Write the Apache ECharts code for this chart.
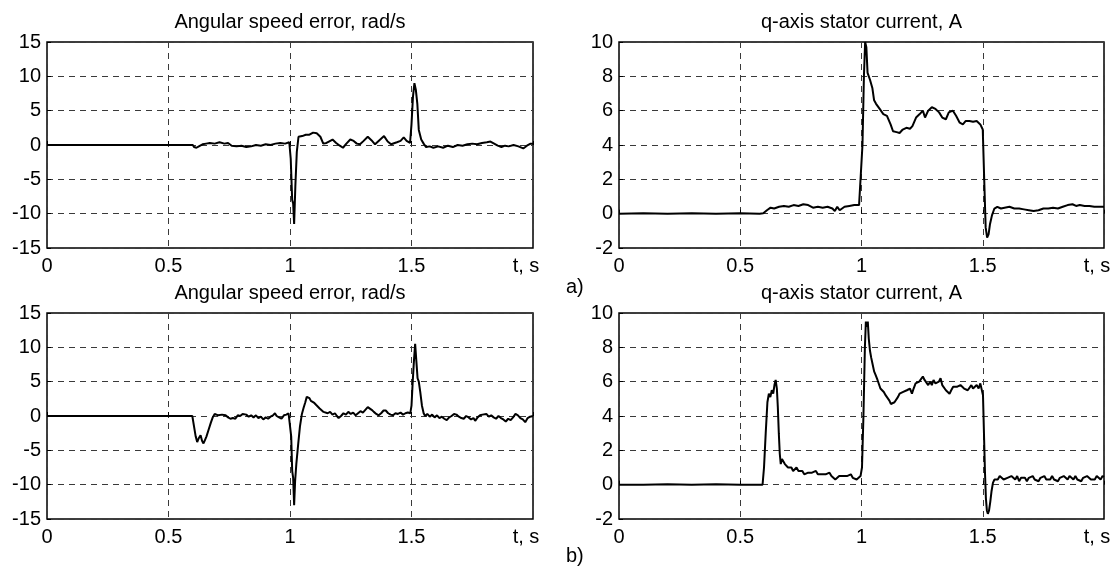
<!DOCTYPE html>
<html>
<head>
<meta charset="utf-8">
<script src="https://cdn.jsdelivr.net/npm/echarts@6/dist/echarts.min.js"></script>
<style>
  html, body { margin: 0; padding: 0; background: #fff; }
  #chart { width: 1118px; height: 570px; }
</style>
</head>
<body>
<div id="chart"></div>
<script>
// titles of the four panels
const speedTitle = 'Angular speed error, rad/s';
const currentTitle = 'q-axis stator current, A';
const panelLabels = ['a)', 'b)'];

// axis ticks
const tTicks = [0, 0.5, 1, 1.5, 2];
const speedTicks = [-15, -10, -5, 0, 5, 10, 15];
const currentTicks = [-2, 0, 2, 4, 6, 8, 10];

// a) angular speed error [t, rad/s]
const speedA = [[0,0],[0.6,0],[0.605,-0.3],[0.615,-0.4],[0.625,-0.2],[0.632,-0.4],[0.64,0.1],[0.655,0.2],[0.67,0.3],[0.69,0.2],[0.71,0.4],[0.73,0.2],[0.745,0.3],[0.76,-0.1],[0.78,-0.2],[0.8,-0.1],[0.82,-0.3],[0.84,-0.2],[0.86,0],[0.88,-0.1],[0.9,0.1],[0.92,0],[0.94,0.2],[0.96,0.3],[0.98,0.2],[0.997,0.4],[1.003,-2],[1.009,-8],[1.013,-8.5],[1.017,-11.5],[1.022,-6],[1.028,-1],[1.035,1.2],[1.05,1.3],[1.065,1.5],[1.08,1.5],[1.095,1.8],[1.11,1.7],[1.125,1.2],[1.137,0.2],[1.15,0.3],[1.16,0.5],[1.175,0.8],[1.19,0.3],[1.205,-0.1],[1.218,-0.4],[1.232,0.2],[1.248,0.8],[1.262,0.6],[1.275,0.2],[1.288,0.1],[1.303,0.6],[1.32,1.2],[1.335,0.7],[1.35,0.1],[1.368,0.7],[1.387,1.3],[1.402,0.5],[1.416,0.1],[1.44,0.4],[1.455,0.6],[1.468,1.1],[1.48,0.6],[1.494,0.3],[1.5,3],[1.506,7],[1.512,9],[1.518,8],[1.524,6],[1.53,2.2],[1.54,0.8],[1.55,0.2],[1.56,-0.3],[1.575,-0.2],[1.59,-0.4],[1.61,-0.2],[1.63,-0.4],[1.65,-0.1],[1.67,-0.3],[1.69,0],[1.71,-0.1],[1.73,0.1],[1.75,0.2],[1.77,0.1],[1.79,0.3],[1.81,0.4],[1.825,0.5],[1.84,0.2],[1.855,-0.1],[1.87,-0.3],[1.885,-0.1],[1.9,-0.2],[1.92,0],[1.94,-0.2],[1.96,-0.5],[1.975,-0.1],[1.99,0.2],[2.0,0.2]];

// a) q-axis stator current [t, A]
const currentA = [[0,0],[0.1,0.02],[0.2,0],[0.3,0.03],[0.4,0],[0.5,0.02],[0.58,0],[0.595,0.02],[0.61,0.2],[0.625,0.35],[0.64,0.3],[0.66,0.4],[0.68,0.45],[0.7,0.4],[0.72,0.5],[0.74,0.45],[0.76,0.55],[0.78,0.5],[0.8,0.35],[0.82,0.4],[0.84,0.35],[0.86,0.4],[0.88,0.3],[0.89,0.15],[0.9,0.4],[0.91,0.2],[0.93,0.4],[0.95,0.45],[0.97,0.5],[0.99,0.5],[0.998,0.6],[1.004,4],[1.01,8],[1.015,10],[1.02,9.7],[1.025,8.2],[1.035,7.8],[1.045,7.3],[1.052,6.6],[1.06,6.4],[1.075,6.1],[1.09,5.8],[1.105,5.7],[1.12,5.2],[1.13,4.8],[1.145,4.75],[1.157,4.7],[1.17,4.9],[1.185,5.0],[1.2,4.95],[1.21,5.1],[1.225,5.6],[1.24,5.8],[1.253,6.0],[1.262,5.6],[1.275,6.0],[1.29,6.2],[1.305,6.1],[1.32,5.9],[1.333,5.6],[1.348,5.5],[1.36,5.9],[1.377,6.0],[1.39,5.7],[1.405,5.3],[1.418,5.2],[1.43,5.4],[1.445,5.4],[1.46,5.35],[1.475,5.4],[1.49,5.2],[1.5,4.9],[1.506,2],[1.512,-0.8],[1.518,-1.4],[1.524,-1.2],[1.53,-0.6],[1.538,-0.1],[1.548,0.3],[1.56,0.4],[1.575,0.3],[1.59,0.35],[1.61,0.4],[1.63,0.3],[1.65,0.3],[1.67,0.25],[1.69,0.2],[1.71,0.15],[1.73,0.2],[1.75,0.3],[1.77,0.3],[1.79,0.35],[1.81,0.3],[1.83,0.4],[1.85,0.5],[1.87,0.55],[1.885,0.45],[1.9,0.5],[1.92,0.45],[1.94,0.45],[1.96,0.4],[1.98,0.4],[2.0,0.4]];

// b) angular speed error [t, rad/s]
const speedB = [[0,0],[0.598,0],[0.605,-1.5],[0.612,-3],[0.618,-3.8],[0.625,-3.2],[0.632,-2.8],[0.638,-3.6],[0.644,-4],[0.65,-3.5],[0.656,-3],[0.665,-2],[0.674,-1],[0.682,-0.2],[0.69,0.3],[0.698,0.4],[0.705,0.1],[0.712,0.3],[0.72,0.2],[0.728,0.4],[0.735,0.1],[0.745,-0.2],[0.755,-0.4],[0.765,-0.3],[0.775,-0.4],[0.785,0.1],[0.795,0],[0.805,0.3],[0.813,0.5],[0.82,0.2],[0.83,-0.1],[0.84,0.1],[0.85,-0.2],[0.86,0.1],[0.87,-0.3],[0.88,-0.1],[0.89,-0.5],[0.9,-0.2],[0.91,-0.4],[0.92,-0.1],[0.93,0.1],[0.938,0.4],[0.945,0],[0.955,-0.2],[0.965,-0.4],[0.975,0.1],[0.985,0.2],[0.994,0.4],[1.0,0.3],[1.005,-3],[1.009,-8],[1.013,-9],[1.017,-13],[1.021,-9.5],[1.026,-7],[1.034,-4],[1.041,-1.5],[1.049,0.3],[1.056,1.2],[1.063,2],[1.069,2.8],[1.074,3],[1.08,2.6],[1.086,2.2],[1.093,2.4],[1.1,1.9],[1.108,1.6],[1.116,1.4],[1.122,1.1],[1.13,0.9],[1.138,0.6],[1.146,0.7],[1.155,0.4],[1.165,0.6],[1.175,0.2],[1.185,0.4],[1.193,0],[1.2,-0.3],[1.21,0],[1.22,0.4],[1.23,0.2],[1.24,0.6],[1.25,0.3],[1.26,0.5],[1.27,0.1],[1.28,0.4],[1.29,0.7],[1.3,0.5],[1.31,0.9],[1.32,1.3],[1.328,1.2],[1.336,0.9],[1.345,0.6],[1.355,0.3],[1.365,0.1],[1.375,0.4],[1.385,0.8],[1.394,0.8],[1.404,0.4],[1.414,0.2],[1.424,0.1],[1.434,0.4],[1.444,0.3],[1.455,0.5],[1.465,0.2],[1.475,0.4],[1.485,0.5],[1.495,0.4],[1.5,1.5],[1.505,5],[1.51,8],[1.515,10.5],[1.52,8],[1.525,5.5],[1.53,5],[1.536,3.5],[1.543,1.5],[1.55,0.4],[1.556,0],[1.565,0.3],[1.575,-0.1],[1.585,0.2],[1.595,-0.2],[1.605,0.1],[1.615,-0.3],[1.625,-0.1],[1.635,-0.4],[1.645,-0.6],[1.655,-0.2],[1.665,0],[1.675,0.3],[1.685,0.2],[1.695,-0.1],[1.705,-0.3],[1.715,-0.4],[1.725,0],[1.735,-0.2],[1.745,-0.5],[1.755,-0.3],[1.762,-0.7],[1.772,-0.2],[1.782,0.1],[1.792,0.2],[1.8,0.4],[1.808,0.3],[1.818,-0.1],[1.828,0.1],[1.838,-0.2],[1.848,-0.4],[1.858,0],[1.868,-0.3],[1.878,-0.5],[1.888,-0.8],[1.898,-0.4],[1.908,-0.6],[1.918,-0.2],[1.928,0.3],[1.938,0.1],[1.948,-0.3],[1.958,-0.5],[1.968,-0.9],[1.978,-0.3],[1.988,-0.1],[2.0,0]];

// b) q-axis stator current [t, A]
const currentB = [[0,0],[0.1,0],[0.2,0.02],[0.3,0],[0.4,0.02],[0.5,0],[0.592,0],[0.598,1],[0.605,3],[0.612,4.8],[0.618,5.3],[0.624,5.1],[0.63,5.5],[0.636,5.3],[0.641,5.8],[0.646,6.1],[0.651,5.6],[0.655,4.5],[0.659,3],[0.663,1.8],[0.667,1.2],[0.672,1.5],[0.678,1.4],[0.684,1.2],[0.69,1.3],[0.697,1.0],[0.704,0.9],[0.711,1.0],[0.718,0.8],[0.725,0.9],[0.732,1.0],[0.74,0.8],[0.748,0.7],[0.756,0.8],[0.764,0.6],[0.772,0.5],[0.78,0.7],[0.788,0.6],[0.796,0.7],[0.804,0.6],[0.812,0.8],[0.82,0.6],[0.828,0.5],[0.836,0.6],[0.844,0.5],[0.852,0.6],[0.86,0.5],[0.868,0.7],[0.876,0.5],[0.884,0.4],[0.892,0.3],[0.9,0.4],[0.908,0.5],[0.916,0.4],[0.924,0.5],[0.932,0.4],[0.94,0.5],[0.948,0.4],[0.956,0.6],[0.964,0.4],[0.972,0.5],[0.98,0.3],[0.988,0.4],[0.996,0.5],[1.002,1],[1.008,4],[1.014,8],[1.018,9.5],[1.022,9.2],[1.026,9.5],[1.03,8.5],[1.035,7.8],[1.04,7.4],[1.046,7.0],[1.052,6.6],[1.058,6.4],[1.066,6.1],[1.072,6.0],[1.078,5.6],[1.085,5.5],[1.092,5.4],[1.1,5.2],[1.108,5.1],[1.115,4.9],[1.121,4.7],[1.128,4.6],[1.136,4.8],[1.143,4.9],[1.15,5.1],[1.157,5.3],[1.165,5.2],[1.172,5.4],[1.18,5.3],[1.187,5.5],[1.194,5.4],[1.2,5.6],[1.208,5.3],[1.215,5.6],[1.223,5.9],[1.23,5.8],[1.238,6.0],[1.246,5.9],[1.253,6.3],[1.26,6.1],[1.268,6.0],[1.275,5.8],[1.283,6.0],[1.29,5.8],[1.297,6.1],[1.305,5.9],[1.312,5.8],[1.319,6.0],[1.326,6.2],[1.333,5.8],[1.34,5.7],[1.348,5.5],[1.355,5.4],[1.363,5.3],[1.37,5.5],[1.378,5.7],[1.385,5.6],[1.393,5.7],[1.4,5.6],[1.408,5.8],[1.415,5.7],[1.423,5.6],[1.43,5.7],[1.438,5.5],[1.445,5.6],[1.453,5.8],[1.46,5.6],[1.468,5.7],[1.475,5.8],[1.483,5.6],[1.49,5.9],[1.496,6.0],[1.501,5.2],[1.505,3],[1.509,0.8],[1.513,-0.8],[1.517,-1.5],[1.521,-1.7],[1.526,-1.5],[1.531,-1.0],[1.536,-0.4],[1.542,0.1],[1.548,0.3],[1.555,0.4],[1.562,0.3],[1.57,0.5],[1.578,0.4],[1.586,0.3],[1.594,0.2],[1.602,0.4],[1.61,0.3],[1.618,0.5],[1.626,0.4],[1.634,0.3],[1.642,0.5],[1.65,0.2],[1.658,0.4],[1.666,0.3],[1.674,0.4],[1.682,0.2],[1.69,0.4],[1.698,0.3],[1.706,0.5],[1.714,0.3],[1.722,0.4],[1.73,0.2],[1.738,0.4],[1.746,0.3],[1.754,0.5],[1.762,0.3],[1.77,0.4],[1.778,0.3],[1.786,0.5],[1.794,0.3],[1.802,0.4],[1.81,0.2],[1.818,0.4],[1.826,0.3],[1.834,0.5],[1.842,0.4],[1.85,0.3],[1.858,0.5],[1.866,0.4],[1.874,0.3],[1.882,0.5],[1.89,0.3],[1.898,0.4],[1.906,0.2],[1.914,0.4],[1.922,0.3],[1.93,0.5],[1.938,0.4],[1.946,0.3],[1.954,0.4],[1.962,0.3],[1.97,0.5],[1.978,0.4],[1.986,0.3],[1.994,0.5],[2.0,0.45]];

const FONT = '"Liberation Sans", Arial, sans-serif';
const chart = echarts.init(document.getElementById('chart'));

// panel boxes in px
const grids = [
  { left: 47, top: 42, width: 486, height: 206 },
  { left: 619, top: 42, width: 485, height: 206 },
  { left: 47, top: 313, width: 486, height: 206 },
  { left: 619, top: 313, width: 485, height: 206 }
];

const gridLine = { show: true, lineStyle: { color: '#3a3a3a', width: 1, type: [6, 5] } };
const tick = { show: true, inside: true, length: 4, lineStyle: { color: '#000' } };

const xAxisOf = (i) => ({
  type: 'value', gridIndex: i,
  min: tTicks[0], max: tTicks[tTicks.length - 1], interval: 0.5,
  axisLine: { show: false },
  axisTick: tick,
  splitLine: gridLine,
  axisLabel: {
    color: '#000', fontSize: 20, fontFamily: FONT, margin: 8, showMaxLabel: true,
    formatter: v => v === 2 ? '{t|t, s}' : String(v),
    rich: { t: { color: '#000', fontSize: 20, fontFamily: FONT, padding: [0, 14, 0, 0] } }
  }
});

const yAxisOf = (i, ticks) => ({
  type: 'value', gridIndex: i,
  min: ticks[0], max: ticks[ticks.length - 1], interval: ticks[1] - ticks[0],
  axisLine: { show: false },
  axisTick: tick,
  splitLine: gridLine,
  axisLabel: { color: '#000', fontSize: 20, fontFamily: FONT, margin: 6, showMinLabel: true, showMaxLabel: true }
});

const lineOf = (i, data) => ({
  type: 'line', xAxisIndex: i, yAxisIndex: i,
  data: data, showSymbol: false, animation: false,
  lineStyle: { color: '#000', width: 2 }
});

const titleOf = (g, text) => ({
  text: text, left: g.left + g.width / 2, top: g.top - 30, textAlign: 'center', padding: 0,
  textStyle: { color: '#000', fontSize: 20, fontWeight: 'normal', fontFamily: FONT }
});

chart.setOption({
  backgroundColor: '#fff',
  animation: false,
  title: [
    titleOf(grids[0], speedTitle), titleOf(grids[1], currentTitle),
    titleOf(grids[2], speedTitle), titleOf(grids[3], currentTitle)
  ],
  grid: grids.map(g => ({ ...g, show: true, borderColor: '#000', borderWidth: 1.5, backgroundColor: 'transparent' })),
  xAxis: [0, 1, 2, 3].map(xAxisOf),
  yAxis: [
    yAxisOf(0, speedTicks), yAxisOf(1, currentTicks),
    yAxisOf(2, speedTicks), yAxisOf(3, currentTicks)
  ],
  series: [
    lineOf(0, speedA), lineOf(1, currentA),
    lineOf(2, speedB), lineOf(3, currentB)
  ],
  graphic: [
    { type: 'text', left: 566, top: 277, style: { text: panelLabels[0], fill: '#000', font: '20px ' + FONT } },
    { type: 'text', left: 566, top: 546, style: { text: panelLabels[1], fill: '#000', font: '20px ' + FONT } }
  ]
});
</script>
</body>
</html>
